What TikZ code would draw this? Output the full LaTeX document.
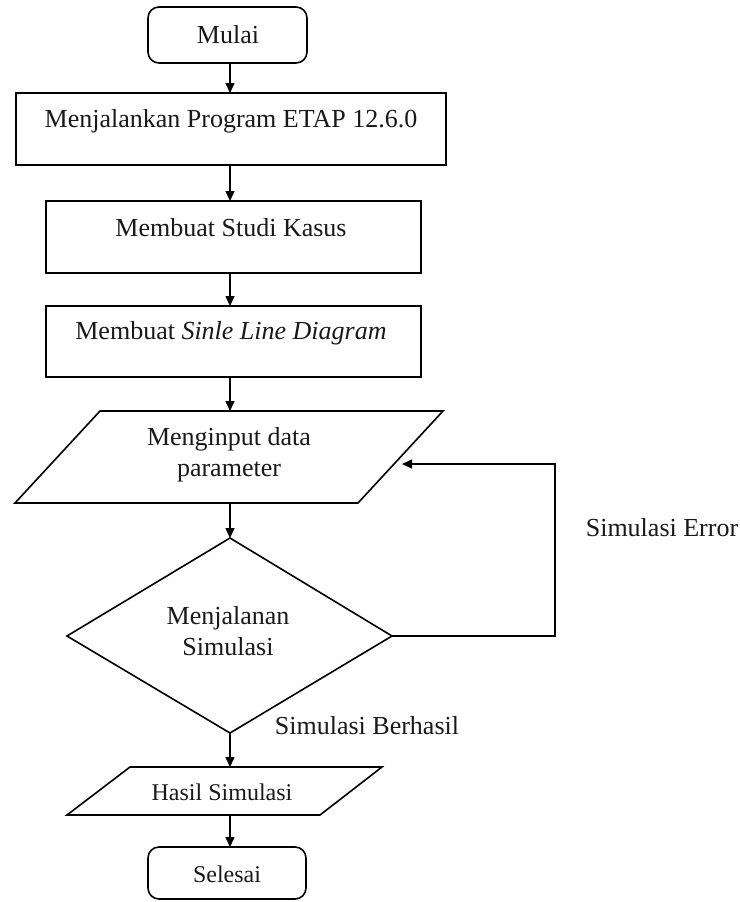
\documentclass[tikz,border=0pt]{standalone}
\usepackage{fontspec}
\setmainfont{Liberation Serif}
\usetikzlibrary{arrows.meta}
\begin{document}
\begin{tikzpicture}[x=1pt,y=-1pt,
  shapeline/.style={draw=black,line width=1.6pt,line join=miter},
  conn/.style={draw=black,line width=1.5pt,-{Triangle[length=10pt,width=9pt]}},
  txt/.style={inner sep=0pt,align=center,text=black!90,font=\fontsize{26}{31}\selectfont},
  smalltxt/.style={inner sep=0pt,align=center,text=black!90,font=\fontsize{24}{29}\selectfont}]
\useasboundingbox[fill=white] (0,0) rectangle (739,902);

% shapes
\draw[shapeline,rounded corners=11pt] (148,7) rectangle (307,63);
\draw[shapeline] (16,93) rectangle (446,165);
\draw[shapeline] (46,201) rectangle (421,273);
\draw[shapeline] (46,306) rectangle (421,377);
\draw[shapeline] (100,411) -- (443,411) -- (358,503) -- (15,503) -- cycle;
\draw[shapeline] (230,538) -- (392,636) -- (230,733) -- (67,636) -- cycle;
\draw[shapeline] (130,767) -- (382,767) -- (320,815) -- (67,815) -- cycle;
\draw[shapeline,rounded corners=11pt] (148,847) rectangle (306,899);

% texts
\node[txt] (mulai) at (228,35) {Mulai};
\node[txt] (etap) at (231,121) {Menjalankan Program ETAP 12.6.0};
\node[txt] (studi) at (231,228) {Membuat Studi Kasus};
\node[txt] (sld) at (231,333) {Membuat \textit{Sinle Line Diagram}};
\node[txt] (input) at (229,455) {Menginput data\\parameter};
\node[txt] (sim) at (228,631) {Menjalanan\\Simulasi};
\node[smalltxt] (hasil) at (222,792) {Hasil Simulasi};
\node[smalltxt] (selesai) at (227,874) {Selesai};
\node[txt] (lerr) at (662,528) {Simulasi Error};
\node[txt] (lok) at (367,726) {Simulasi Berhasil};

% connector anchor points
\coordinate (mulaiB) at (230,63);
\coordinate (etapT) at (230,93);
\coordinate (etapB) at (230,165);
\coordinate (studiT) at (230,201);
\coordinate (studiB) at (230,273);
\coordinate (sldT) at (230,306);
\coordinate (sldB) at (230,377);
\coordinate (inputT) at (230,411);
\coordinate (inputB) at (230,503);
\coordinate (simT) at (230,538);
\coordinate (simR) at (392,636);
\coordinate (simB) at (230,733);
\coordinate (hasilT) at (230,767);
\coordinate (hasilB) at (230,815);
\coordinate (selesaiT) at (230,847);
\coordinate (loopBR) at (555,636);
\coordinate (loopTR) at (555,464);
\coordinate (inputR) at (402,464);

% connectors
\draw[conn] (mulaiB) -- (etapT);
\draw[conn] (etapB) -- (studiT);
\draw[conn] (studiB) -- (sldT);
\draw[conn] (sldB) -- (inputT);
\draw[conn] (inputB) -- (simT);
\draw[conn] (simB) -- (hasilT);
\draw[conn] (hasilB) -- (selesaiT);
\draw[conn] (simR) -- (loopBR) -- (loopTR) -- (inputR);
\end{tikzpicture}
\end{document}
